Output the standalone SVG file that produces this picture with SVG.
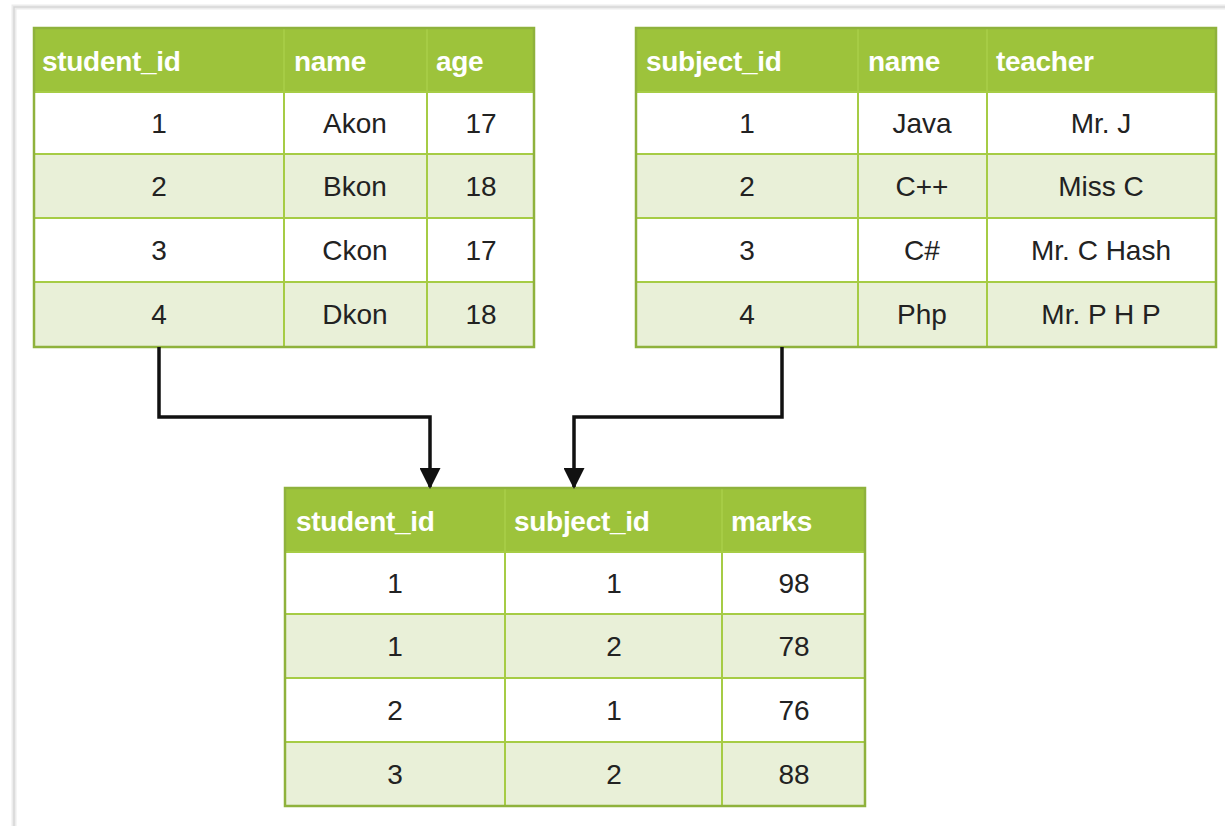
<svg xmlns="http://www.w3.org/2000/svg" width="1225" height="826" viewBox="0 0 1225 826">
  <defs>
    <style>
      .hdr { fill: #9dc33b; }
      .odd { fill: #ffffff; }
      .even { fill: #e9f0d8; }
      .grid { stroke: #a6cc45; stroke-width: 2; fill: none; }
      .outline { stroke: #8fb23c; stroke-width: 2.5; fill: none; }
      .th { font-family: "Liberation Sans", Arial, sans-serif; font-weight: bold; font-size: 28px; fill: #ffffff; letter-spacing: -0.3px; }
      .td { font-family: "Liberation Sans", Arial, sans-serif; font-size: 28px; fill: #222222; text-anchor: middle; }
      .link { stroke: #111111; stroke-width: 3.5; fill: none; }
    </style>
    <marker id="arrow" viewBox="0 0 10 10" refX="9" refY="5" markerWidth="7.5" markerHeight="6" markerUnits="strokeWidth" orient="auto">
      <path d="M0,0 L10,5 L0,10 Z" fill="#111111"/>
    </marker>
  </defs>

  <rect width="1225" height="826" fill="#ffffff"/>
  <!-- page frame -->
  <path d="M14,826 L14,7 L1225,7" fill="none" stroke="#ececec" stroke-width="5"/>
  <path d="M14,826 L14,7 L1225,7" fill="none" stroke="#d6d6d6" stroke-width="1.5"/>

  <!-- students table -->
  <g id="students">
    <rect class="hdr" x="34" y="28" width="500" height="64"/>
    <rect class="odd" x="34" y="92" width="500" height="62"/>
    <rect class="even" x="34" y="154" width="500" height="64"/>
    <rect class="odd" x="34" y="218" width="500" height="64"/>
    <rect class="even" x="34" y="282" width="500" height="65"/>
    <path class="grid" d="M34,92 H534 M34,154 H534 M34,218 H534 M34,282 H534 M284,28 V347 M427,28 V347"/>
    <rect class="outline" x="34" y="28" width="500" height="319"/>
    <text class="th" x="42" y="71">student_id</text>
    <text class="th" x="294" y="71">name</text>
    <text class="th" x="436" y="71">age</text>
    <text class="td" x="159" y="133">1</text>
    <text class="td" x="355" y="133">Akon</text>
    <text class="td" x="481" y="133">17</text>
    <text class="td" x="159" y="196">2</text>
    <text class="td" x="355" y="196">Bkon</text>
    <text class="td" x="481" y="196">18</text>
    <text class="td" x="159" y="260">3</text>
    <text class="td" x="355" y="260">Ckon</text>
    <text class="td" x="481" y="260">17</text>
    <text class="td" x="159" y="324">4</text>
    <text class="td" x="355" y="324">Dkon</text>
    <text class="td" x="481" y="324">18</text>
  </g>

  <!-- subjects table -->
  <g id="subjects">
    <rect class="hdr" x="636" y="28" width="580" height="64"/>
    <rect class="odd" x="636" y="92" width="580" height="62"/>
    <rect class="even" x="636" y="154" width="580" height="64"/>
    <rect class="odd" x="636" y="218" width="580" height="64"/>
    <rect class="even" x="636" y="282" width="580" height="65"/>
    <path class="grid" d="M636,92 H1216 M636,154 H1216 M636,218 H1216 M636,282 H1216 M858,28 V347 M987,28 V347"/>
    <rect class="outline" x="636" y="28" width="580" height="319"/>
    <text class="th" x="646" y="71">subject_id</text>
    <text class="th" x="868" y="71">name</text>
    <text class="th" x="996" y="71">teacher</text>
    <text class="td" x="747" y="133">1</text>
    <text class="td" x="922" y="133">Java</text>
    <text class="td" x="1101" y="133">Mr. J</text>
    <text class="td" x="747" y="196">2</text>
    <text class="td" x="922" y="196">C++</text>
    <text class="td" x="1101" y="196">Miss C</text>
    <text class="td" x="747" y="260">3</text>
    <text class="td" x="922" y="260">C#</text>
    <text class="td" x="1101" y="260">Mr. C Hash</text>
    <text class="td" x="747" y="324">4</text>
    <text class="td" x="922" y="324">Php</text>
    <text class="td" x="1101" y="324">Mr. P H P</text>
  </g>

  <!-- marks table -->
  <g id="marks">
    <rect class="hdr" x="285" y="488" width="580" height="64"/>
    <rect class="odd" x="285" y="552" width="580" height="62"/>
    <rect class="even" x="285" y="614" width="580" height="64"/>
    <rect class="odd" x="285" y="678" width="580" height="64"/>
    <rect class="even" x="285" y="742" width="580" height="64"/>
    <path class="grid" d="M285,552 H865 M285,614 H865 M285,678 H865 M285,742 H865 M505,488 V806 M722,488 V806"/>
    <rect class="outline" x="285" y="488" width="580" height="318"/>
    <text class="th" x="296" y="531">student_id</text>
    <text class="th" x="514" y="531">subject_id</text>
    <text class="th" x="731" y="531">marks</text>
    <text class="td" x="395" y="593">1</text>
    <text class="td" x="614" y="593">1</text>
    <text class="td" x="794" y="593">98</text>
    <text class="td" x="395" y="656">1</text>
    <text class="td" x="614" y="656">2</text>
    <text class="td" x="794" y="656">78</text>
    <text class="td" x="395" y="720">2</text>
    <text class="td" x="614" y="720">1</text>
    <text class="td" x="794" y="720">76</text>
    <text class="td" x="395" y="784">3</text>
    <text class="td" x="614" y="784">2</text>
    <text class="td" x="794" y="784">88</text>
  </g>

  <!-- foreign-key connectors -->
  <g id="connectors">
    <path class="link" d="M159,347 V417 H430 V487" marker-end="url(#arrow)"/>
    <path class="link" d="M782,347 V417 H574 V487" marker-end="url(#arrow)"/>
  </g>
</svg>
